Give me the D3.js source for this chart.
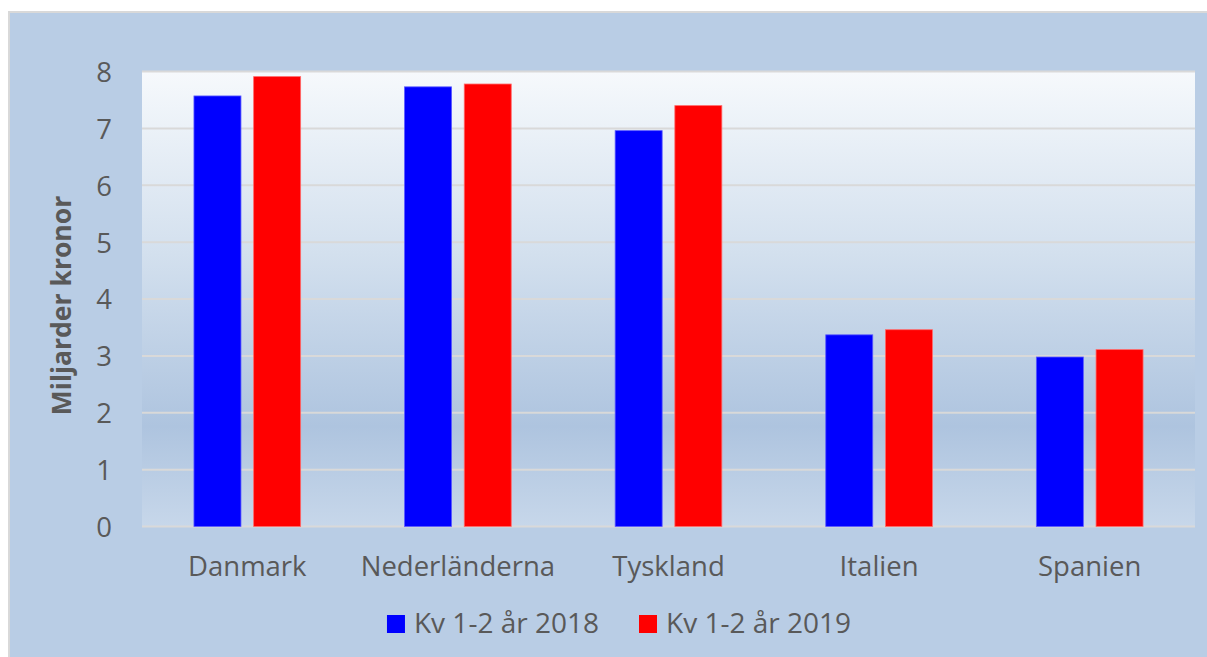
<!DOCTYPE html>
<html>
<head>
<meta charset="utf-8">
<script src="https://cdn.jsdelivr.net/npm/d3@7"></script>
<style>
  html, body { margin: 0; padding: 0; background: #ffffff; }
  svg { display: block; }
  text { font-family: "Open Sans", "Noto Sans", sans-serif; fill: #595959; }
</style>
</head>
<body>
<svg id="chart" width="1207" height="657"></svg>
<script>
const categories = ["Danmark", "Nederländerna", "Tyskland", "Italien", "Spanien"];
const seriesNames = ["Kv 1-2 år 2018", "Kv 1-2 år 2019"];
const values2018 = [7.57, 7.73, 6.96, 3.37, 2.98];
const values2019 = [7.91, 7.78, 7.40, 3.46, 3.11];
const yTicks = [0, 1, 2, 3, 4, 5, 6, 7, 8];
const yTitle = "Miljarder kronor";
const colors = ["#0000ff", "#ff0000"];

const svg = d3.select("#chart");
const W = 1207, H = 657;
const plot = { left: 142, right: 1195, top: 71.5, bottom: 526.5 };

// outer frame
svg.append("rect")
  .attr("x", 9).attr("y", 12)
  .attr("width", W + 20).attr("height", H + 20)
  .attr("fill", "#b9cde5")
  .attr("stroke", "#d9d9d9").attr("stroke-width", 2);

// gradient for plot area
const defs = svg.append("defs");
const grad = defs.append("linearGradient").attr("id", "plotGrad")
  .attr("x1", 0).attr("y1", 0).attr("x2", 0).attr("y2", 1);
grad.append("stop").attr("offset", "0%").attr("stop-color", "#f6f9fc");
grad.append("stop").attr("offset", "40%").attr("stop-color", "#d3e0ee");
grad.append("stop").attr("offset", "78%").attr("stop-color", "#aec4df");
grad.append("stop").attr("offset", "100%").attr("stop-color", "#c7d7ea");

svg.append("rect")
  .attr("x", plot.left).attr("y", plot.top)
  .attr("width", plot.right - plot.left).attr("height", plot.bottom - plot.top)
  .attr("fill", "url(#plotGrad)");

const y = d3.scaleLinear().domain([0, 8]).range([plot.bottom, plot.top]);
const x0 = d3.scaleBand().domain(categories).range([plot.left, plot.right])
  .paddingInner(0.4934).paddingOuter(0.2467);
const x1 = d3.scaleBand().domain(seriesNames).range([0, x0.bandwidth()])
  .paddingInner(0.2127).paddingOuter(0);

// gridlines
svg.append("g").selectAll("line").data(yTicks).join("line")
  .attr("x1", plot.left).attr("x2", plot.right)
  .attr("y1", d => y(d)).attr("y2", d => y(d))
  .attr("stroke", "#d9d9d9").attr("stroke-width", 2);

// y axis labels
const yAxis = d3.axisLeft(y).tickValues(yTicks).tickSize(0).tickPadding(0).tickFormat(d3.format("d"));
const yg = svg.append("g").attr("transform", `translate(${plot.left - 30},0)`).call(yAxis);
yg.select(".domain").remove();
yg.selectAll("text")
  .attr("font-family", "Open Sans, Noto Sans, sans-serif")
  .attr("font-size", 27.5).attr("fill", "#595959").attr("dy", "0.36em");

// bars
const series = [values2018, values2019];
const g = svg.append("g");
categories.forEach((c, i) => {
  seriesNames.forEach((s, j) => {
    const v = series[j][i];
    g.append("rect")
      .attr("x", x0(c) + x1(s))
      .attr("y", y(v))
      .attr("width", x1.bandwidth())
      .attr("height", y(0) - y(v))
      .attr("fill", colors[j])
      .attr("stroke", j === 0 ? "#5a5aff" : "#ff6a6a")
      .attr("stroke-width", 0.8);
  });
});

// x axis labels
const xAxis = d3.axisBottom(x0).tickSize(0).tickPadding(0);
const xg = svg.append("g").attr("transform", `translate(0,${plot.bottom + 49.5})`).call(xAxis);
xg.select(".domain").remove();
xg.selectAll("text")
  .attr("font-family", "Open Sans, Noto Sans, sans-serif")
  .attr("font-size", 27.5).attr("fill", "#595959").attr("dy", 0);

// y title
svg.append("text")
  .attr("transform", `translate(70.5,305.5) rotate(-90)`)
  .attr("text-anchor", "middle")
  .attr("font-size", 26.5).attr("font-weight", "bold")
  .text(yTitle);

// legend
const legend = svg.append("g");
const legendY = 633;
const sq = 18;
const items = legend.selectAll("g").data(seriesNames).join("g");
items.append("rect").attr("width", sq).attr("height", sq)
  .attr("y", legendY - 18).attr("fill", (d, i) => colors[i]);
items.append("text").attr("x", sq + 9).attr("y", legendY)
  .attr("font-size", 28).text(d => d);
let widths = [];
items.each(function () { widths.push(this.getBBox().width); });
const gap = 40;
const total = d3.sum(widths) + gap;
let cx = 619 - total / 2;
items.attr("transform", (d, i) => {
  const t = `translate(${cx},0)`;
  cx += widths[i] + gap;
  return t;
});
</script>
</body>
</html>
